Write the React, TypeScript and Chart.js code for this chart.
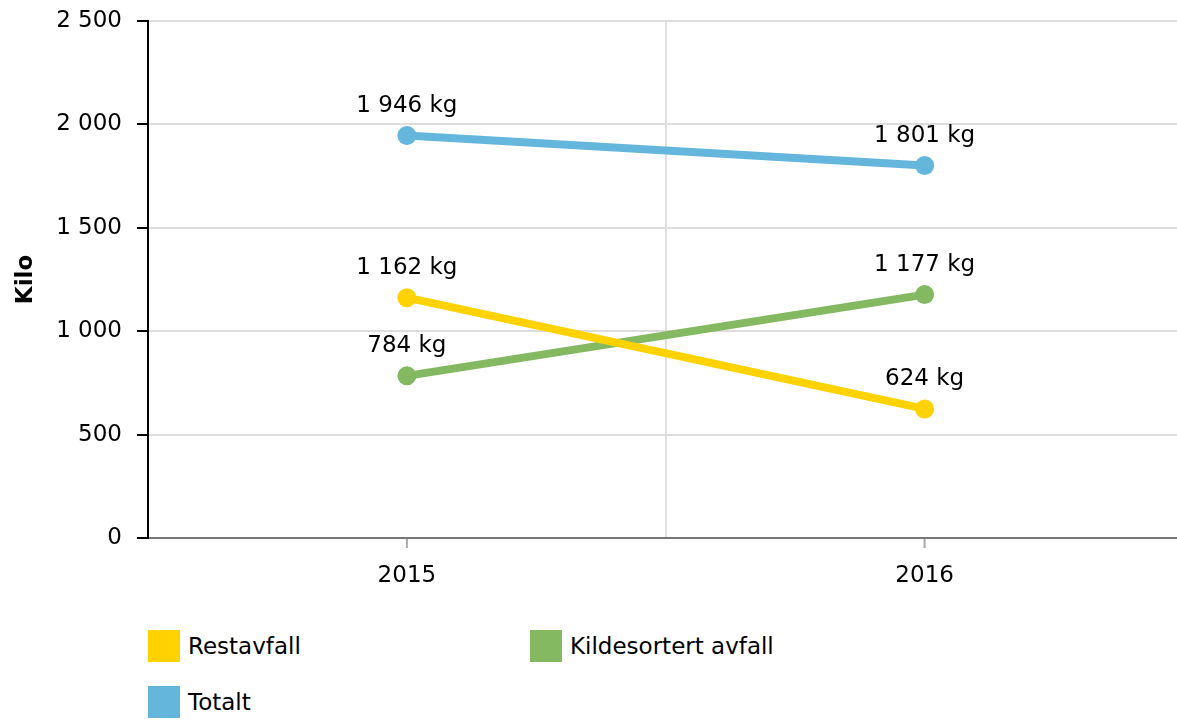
import React, { useEffect, useRef } from "react";
import { Chart, registerables } from "chart.js";

Chart.register(...registerables);

const categories = ["2015", "2016"];
const seriesNames = ["Restavfall", "Kildesortert avfall", "Totalt"];
const restavfall = [1162, 624];
const kildesortert = [784, 1177];
const totalt = [1946, 1801];
const seriesColors = ["#FFD200", "#84B962", "#65B6DC"];
const yTicks = [0, 500, 1000, 1500, 2000, 2500];
const yTitle = "Kilo";
const unit = "kg";

const FONT = "'DejaVu Sans', Verdana, sans-serif";
const FS = 23;

function fmt(v: number): string {
  return String(Math.round(v)).replace(/\B(?=(\d{3})+(?!\d))/g, " ");
}

const labelPlugin = {
  id: "valueLabels",
  afterDatasetsDraw(chart: any) {
    const ctx = chart.ctx;
    ctx.save();
    ctx.font = `${FS}px ${FONT}`;
    ctx.fillStyle = "#000";
    ctx.textAlign = "center";
    ctx.textBaseline = "middle";
    chart.data.datasets.forEach((ds: any, di: number) => {
      const meta = chart.getDatasetMeta(di);
      meta.data.forEach((pt: any, i: number) => {
        ctx.fillText(`${fmt(ds.data[i])} ${unit}`, pt.x, pt.y - 30);
      });
    });
    ctx.restore();
  },
};

const xTickPlugin = {
  id: "xCenterTicks",
  afterDraw(chart: any) {
    const ctx = chart.ctx;
    const xs = chart.scales.x;
    ctx.save();
    ctx.strokeStyle = "#aaaaaa";
    ctx.lineWidth = 2;
    for (let i = 0; i < categories.length; i++) {
      const x = xs.getPixelForTick(i);
      ctx.beginPath();
      ctx.moveTo(x, chart.chartArea.bottom + 1);
      ctx.lineTo(x, chart.chartArea.bottom + 10);
      ctx.stroke();
    }
    ctx.restore();
  },
};

function ChartCanvas() {
  const ref = useRef<HTMLCanvasElement | null>(null);
  useEffect(() => {
    if (!ref.current) return;
    const data = [restavfall, kildesortert, totalt];
    const chart = new Chart(ref.current, {
      type: "line",
      data: {
        labels: categories,
        datasets: seriesNames.map((name, i) => ({
          label: name,
          data: data[i],
          borderColor: seriesColors[i],
          backgroundColor: seriesColors[i],
          pointBackgroundColor: seriesColors[i],
          pointBorderWidth: 0,
          pointRadius: 9.5,
          borderWidth: 8,
          fill: false,
          tension: 0,
        })),
      },
      options: {
        responsive: false,
        animation: false,
        layout: { padding: { top: 21, right: 5, left: 0, bottom: 0 } },
        font: { family: FONT, size: FS },
        plugins: {
          legend: { display: false },
          tooltip: { enabled: false },
        },
        scales: {
          x: {
            type: "category",
            offset: true,
            grid: {
              offset: true,
              drawTicks: false,
              lineWidth: 2,
              color: (c: any) => (c.index === 1 ? "#e0e0e0" : "rgba(0,0,0,0)"),
            },
            border: { color: "#777777", width: 2 },
            ticks: {
              color: "#000",
              font: { family: FONT, size: FS },
              padding: 24,
              maxRotation: 0,
            },
            afterFit: (s: any) => {
              s.height = 620 - 538;
            },
          },
          y: {
            min: 0,
            max: 2500,
            afterBuildTicks: (s: any) => {
              s.ticks = yTicks.map((v) => ({ value: v }));
            },
            grid: {
              color: "#dddddd",
              lineWidth: 2,
              tickColor: "#000",
              tickLength: 11,
              tickWidth: 2,
            },
            border: { color: "#000", width: 2 },
            ticks: {
              color: "#000",
              font: { family: FONT, size: FS },
              padding: 15,
              callback: (v: any) => fmt(Number(v)),
            },
            title: {
              display: true,
              text: yTitle,
              color: "#000",
              font: { family: FONT, size: FS, weight: "bold" },
              padding: { top: 12, bottom: 4 },
            },
            afterFit: (s: any) => {
              s.width = 148;
              s.paddingTop = 10;
              s.paddingBottom = 10;
            },
          },
        },
      },
      plugins: [labelPlugin, xTickPlugin],
    } as any);
    return () => chart.destroy();
  }, []);
  return <canvas ref={ref} width={1193} height={620} style={{ display: "block" }} />;
}

export default function App() {
  const legendPos = [
    { left: 148, top: 630 },
    { left: 530, top: 630 },
    { left: 148, top: 686 },
  ];
  return (
    <div
      style={{
        position: "absolute",
        left: 0,
        top: 0,
        width: 1177,
        height: 720,
        overflow: "hidden",
        background: "#fff",
      }}
    >
      <ChartCanvas />
      {seriesNames.map((name, i) => (
        <div
          key={name}
          style={{
            position: "absolute",
            left: legendPos[i].left,
            top: legendPos[i].top,
            height: 32,
            display: "flex",
            alignItems: "center",
            fontFamily: FONT,
            fontSize: FS,
            color: "#000",
            whiteSpace: "nowrap",
          }}
        >
          <span
            style={{
              display: "inline-block",
              width: 32,
              height: 32,
              background: seriesColors[i],
              marginRight: 8,
            }}
          />
          <span>{name}</span>
        </div>
      ))}
    </div>
  );
}
